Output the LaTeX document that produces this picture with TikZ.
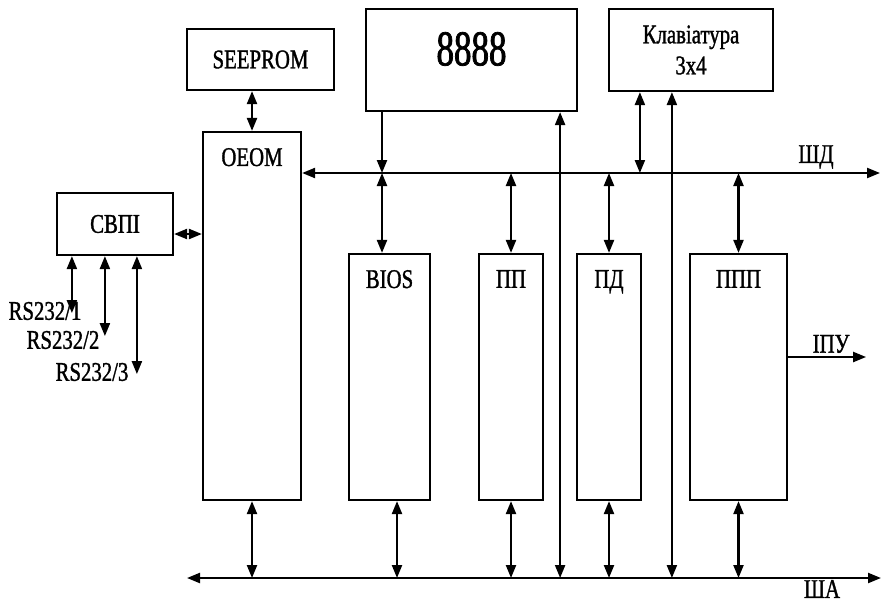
\documentclass[tikz,border=0pt]{standalone}
\usepackage{fontspec}
\setmainfont[FakeStretch=0.77, FakeBold=1.2]{Liberation Serif}
\newfontfamily\bigfont[FakeStretch=0.7, FakeBold=1.5]{Liberation Serif}
\usetikzlibrary{arrows.meta,positioning}

\begin{document}
\begin{tikzpicture}[x=1pt, y=-1pt,
        box/.style={draw, line width=2.2pt, rectangle, inner sep=0pt, align=center, font=\fontsize{27}{31}\selectfont},
        tall/.style={box, minimum height=246pt},
        title/.style={anchor=north, inner sep=0pt, yshift=-17pt, font=\fontsize{27}{31}\selectfont},
        arrow/.style={-{Triangle[length=13pt,width=10pt]}, line width=2.2pt},
        biarrow/.style={{Triangle[length=13pt,width=10pt]}-{Triangle[length=13pt,width=10pt]}, line width=2.2pt}
    ]
        \useasboundingbox (0,0) rectangle (882,605);
        % Nodes
        \node[box, minimum width=147pt, minimum height=61pt] (seeprom) at (260.5,59.5) {SEEPROM};
        \node[box, minimum width=211pt, minimum height=102pt,
            label={[anchor=north, inner sep=0pt, yshift=-24pt, font=\bigfont\fontsize{50}{50}\selectfont]north:8888}] (cpu) at (471.5,60) {};
        \node[box, minimum width=164pt, minimum height=82pt] (kbd) at (691,50) {Клавіатура\\3x4};
        \node[box, minimum width=116pt, minimum height=62pt] (svpi) at (115,224) {СВПІ};
        \node[box, minimum width=98pt, minimum height=368pt, label={[title]north:ОЕОМ}] (oeom) at (252,316) {};
        \node[tall, minimum width=81pt, label={[title]north:BIOS}] (bios) at (389.5,377) {};
        \node[tall, minimum width=64pt, label={[title]north:ПП}] (pp) at (511,377) {};
        \node[tall, minimum width=64pt, label={[title]north:ПД}] (pd) at (609,377) {};
        \node[tall, minimum width=97pt, label={[title]north:ППП}] (ppp) at (738.5,377) {};

        \coordinate (shd) at (880,173);
        \coordinate (shaL) at (187,578);
        \coordinate (shaR) at (881,578);
        \node[box, draw=none] (shdlbl) at (816,157) {ШД};
        \node[box, draw=none] (shalbl) at (822,589) {ША};

        \node[box, draw=none] (rs1) at (45,311) {RS232/1};
        \node[box, draw=none] (rs2) at (63,340) {RS232/2};
        \node[box, draw=none] (rs3) at (92,372) {RS232/3};

        % Buses
        \draw[biarrow] (oeom.east |- shd) -- (shd);
        \draw[biarrow] (shaL) -- (shaR);

        % Arrows
        \draw[biarrow] (oeom.north |- seeprom.south) -- (oeom.north);
        \draw[biarrow] ([yshift=-10pt]svpi.east) -- ([yshift=-10pt]svpi.east -| oeom.west);
        \draw[biarrow] ([xshift=16pt]svpi.south west) -- ++(0,57);
        \draw[biarrow] ([xshift=49pt]svpi.south west) -- ++(0,80);
        \draw[biarrow] ([xshift=81pt]svpi.south west) -- ++(0,118);

        \draw[arrow] ([xshift=-7.5pt]bios.north |- cpu.south) -- ([xshift=-7.5pt]bios.north |- shd);
        \draw[biarrow] ([xshift=-7.5pt]bios.north |- shd) -- ([xshift=-7.5pt]bios.north);
        \foreach \n in {pp,pd,ppp}
            \draw[biarrow] (\n.north |- shd) -- (\n.north);

        \draw[biarrow] ([xshift=32pt]kbd.south west) -- ([xshift=32pt]kbd.south west |- shd);
        \draw[biarrow] ([xshift=64pt]kbd.south west) -- ([xshift=64pt]kbd.south west |- shaL);
        \draw[biarrow] ([xshift=-18pt]cpu.south east) -- ([xshift=-18pt]cpu.south east |- shaL);

        \draw[biarrow] (oeom.south) -- (oeom.south |- shaL);
        \draw[biarrow] ([xshift=7.5pt]bios.south) -- ([xshift=7.5pt]bios.south |- shaL);
        \foreach \n in {pp,pd,ppp}
            \draw[biarrow] (\n.south) -- (\n.south |- shaL);

        \draw[arrow] ([yshift=20pt]ppp.east) -- ++(78,0) node[pos=0.55, above, inner sep=3pt, font=\fontsize{27}{31}\selectfont] {ІПУ};
    \end{tikzpicture}
\end{document}
